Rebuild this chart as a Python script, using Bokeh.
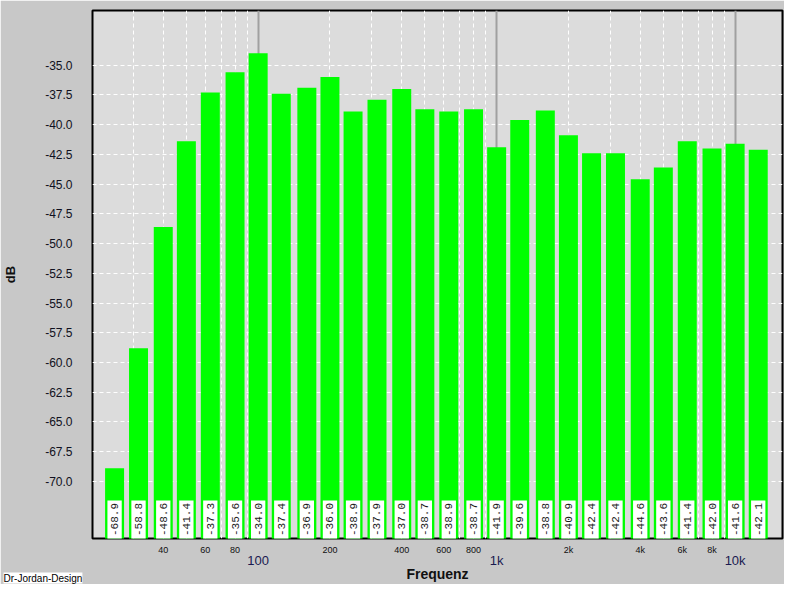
import math
from bokeh.plotting import figure
from bokeh.models import (FixedTicker, LogAxis, Grid, NumeralTickFormatter, Title)
from bokeh.core.properties import value
from bokeh.embed import file_html
from bokeh.resources import INLINE

# ---- data ----
freqs = [25, 31.5, 40, 50, 63, 80, 100, 125, 160, 200, 250, 315, 400, 500,
         630, 800, 1000, 1250, 1600, 2000, 2500, 3150, 4000, 5000, 6300,
         8000, 10000, 12500]
levels = [-68.9, -58.8, -48.6, -41.4, -37.3, -35.6, -34.0, -37.4, -36.9,
          -36.0, -38.9, -37.9, -37.0, -38.7, -38.9, -38.7, -41.9, -39.6,
          -38.8, -40.9, -42.4, -42.4, -44.6, -43.6, -41.4, -42.0, -41.6, -42.1]
minor_ticks = [40, 60, 80, 200, 400, 600, 800, 2000, 4000, 6000, 8000]
minor_tick_labels = ["40", "60", "80", "200", "400", "600", "800", "2k", "4k", "6k", "8k"]
major_ticks = [100, 1000, 10000]
major_tick_labels = ["100", "1k", "10k"]
minor_grid = [30, 40, 50, 60, 70, 80, 90, 200, 300, 400, 500, 600, 700, 800, 900,
              2000, 3000, 4000, 5000, 6000, 7000, 8000, 9000]
y_ticks = [-35.0, -37.5, -40.0, -42.5, -45.0, -47.5, -50.0, -52.5, -55.0, -57.5,
           -60.0, -62.5, -65.0, -67.5, -70.0]

X_MIN, X_MAX = 20.2, 15800
Y_MIN, Y_MAX = -74.8, -30.4

W, H = 784, 584
p = figure(width=W, height=H, x_axis_type="log",
           x_range=(X_MIN, X_MAX), y_range=(Y_MIN, Y_MAX),
           output_backend="svg", toolbar_location=None,
           min_border_left=90, min_border_right=2, min_border_top=10,
           min_border_bottom=44)
p.background_fill_color = "#dcdcdc"
p.border_fill_color = "#c8c8c8"
p.outline_line_color = "black"
p.outline_line_width = 2

# grids
p.xgrid.ticker = FixedTicker(ticks=minor_grid)
p.xgrid.grid_line_color = "white"
p.xgrid.grid_line_dash = "4 3"
p.xgrid.grid_line_width = 1
p.ygrid.ticker = FixedTicker(ticks=y_ticks)
p.ygrid.grid_line_color = "white"
p.ygrid.grid_line_dash = "4 3"
p.ygrid.grid_line_width = 1
major_grid = Grid(dimension=0, ticker=FixedTicker(ticks=major_ticks),
                  grid_line_color="#a0a0a0", grid_line_width=2)
p.add_layout(major_grid)

# bars
half = 10 ** 0.0398
p.quad(left=[f / half for f in freqs], right=[f * half for f in freqs],
       bottom=Y_MIN - 5, top=levels, fill_color="#00ff00", line_color=None)

# value boxes
bh = 10 ** 0.0300
box_top = Y_MIN + (Y_MAX - Y_MIN) * 0.072
p.quad(left=[f / bh for f in freqs], right=[f * bh for f in freqs],
       bottom=Y_MIN - 5, top=box_top, fill_color="white", line_color=None)
p.text(x=freqs, y=(Y_MIN + box_top) / 2, text=[f"{v:.1f}" for v in levels],
       angle=math.pi / 2, text_align="center", text_baseline="middle",
       text_font=value("Liberation Mono"), text_font_size="11px",
       text_color="#1a1a1a")

# y axis
yax = p.yaxis[0]
yax.ticker = FixedTicker(ticks=y_ticks)
yax.formatter = NumeralTickFormatter(format="0.0")
yax.axis_line_color = None
yax.major_tick_line_color = None
yax.minor_tick_line_color = None
yax.major_tick_out = 0
yax.minor_tick_out = 0
yax.major_label_standoff = 20
yax.major_label_text_font = "Liberation Sans"
yax.major_label_text_font_size = "12px"
yax.major_label_text_color = "#101020"
yax.axis_label = "dB"
yax.axis_label_text_font = "Liberation Sans"
yax.axis_label_text_font_style = "bold"
yax.axis_label_text_font_size = "13px"
yax.axis_label_text_color = "#101010"
yax.axis_label_standoff = 24

# x axis (minor labels)
xax = p.xaxis[0]
xax.ticker = FixedTicker(ticks=minor_ticks)
xax.major_label_overrides = {t: l for t, l in zip(minor_ticks, minor_tick_labels)}
xax.axis_line_color = None
xax.major_tick_line_color = None
xax.minor_tick_line_color = None
xax.major_tick_out = 0
xax.minor_tick_out = 0
xax.major_label_standoff = 6
xax.major_label_text_font = "Liberation Sans"
xax.major_label_text_font_size = "9px"
xax.major_label_text_color = "#101010"

# x axis (decade labels)
xax2 = LogAxis(ticker=FixedTicker(ticks=major_ticks),
               major_label_overrides={t: l for t, l in zip(major_ticks, major_tick_labels)})
xax2.axis_line_color = None
xax2.major_tick_line_color = None
xax2.minor_tick_line_color = None
xax2.major_tick_out = 0
xax2.minor_tick_out = 0
xax2.major_label_standoff = -5
xax2.major_label_text_font = "Liberation Sans"
xax2.major_label_text_font_size = "13px"
xax2.major_label_text_color = "#1a1a50"
xax2.axis_label = "Frequenz"
xax2.axis_label_text_font = "Liberation Sans"
xax2.axis_label_text_font_style = "bold"
xax2.axis_label_text_font_size = "14px"
xax2.axis_label_text_color = "#101010"
xax2.axis_label_standoff = -5
p.add_layout(xax2, "below")

# logo (as a bottom title)
logo = Title(text="Dr-Jordan-Design", align="left", offset=-89,
             vertical_align="top",
             text_font="Liberation Sans", text_font_size="10px",
             text_font_style="normal", text_color="black",
             background_fill_color="white", standoff=-24)
p.add_layout(logo, "below")

open("out.html", "w").write(file_html(p, INLINE))
